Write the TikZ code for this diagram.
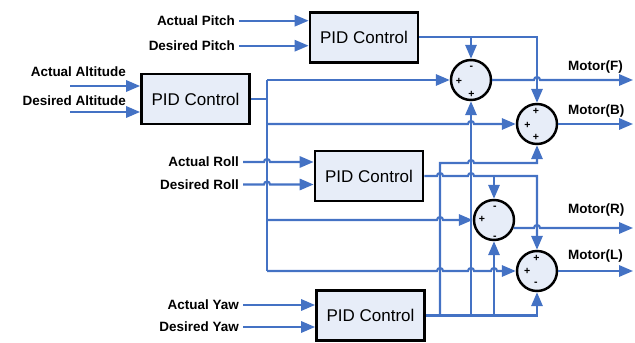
\documentclass[tikz,border=0pt]{standalone}
\usepackage{fontspec}
\setmainfont{Liberation Sans}
\usetikzlibrary{arrows.meta}

\definecolor{wireblue}{RGB}{68,114,196}
\definecolor{boxfill}{RGB}{231,237,248}
% little bump where a wire crosses another one
\newcommand{\hopat}[2]{-- (#1-3,#2) arc[start angle=180,end angle=0,radius=0.09cm]}

\begin{document}
\begin{tikzpicture}[x=0.03cm,y=-0.03cm,
  >={Triangle[length=0.42cm,width=0.34cm]}]
\tikzset{pidbox/.style={draw, line width=2.1pt, fill=boxfill, minimum width=3.25cm, minimum height=1.5cm, font=\fontsize{14.5}{16}\selectfont}}
\tikzset{sumnode/.style={draw, circle, line width=2.1pt, fill=boxfill, minimum size=1.2cm, inner sep=0pt}}
\tikzset{wire/.style={draw=wireblue, line width=1.8pt}}
\tikzset{lbl/.style={font=\bfseries\fontsize{11.5}{13}\selectfont}}
\tikzset{sgn/.style={font=\bfseries\fontsize{9}{9}\selectfont, inner sep=0pt}}
\useasboundingbox (0,0) rectangle (635,343);

% controllers
\node[pidbox] (pitch) at (364,37.3) {PID Control};
\node[pidbox] (alt) at (195.5,99) {PID Control};
\node[pidbox] (roll) at (369,176) {PID Control};
\node[pidbox] (yaw) at (370.5,315.5) {PID Control};

% mixers
\node[sumnode] (sF) at (471,80) {};
\node[sumnode] (sB) at (537,124) {};
\node[sumnode] (sR) at (494,220) {};
\node[sumnode] (sL) at (537,271) {};
\node[sgn] (sF1) at (471.5,68) {-};
\node[sgn] (sF2) at (459,81) {+};
\node[sgn] (sF3) at (471.5,94) {+};
\node[sgn] (sB1) at (536,111) {+};
\node[sgn] (sB2) at (527.5,125.5) {+};
\node[sgn] (sB3) at (536,137.7) {+};
\node[sgn] (sR1) at (495,207.5) {-};
\node[sgn] (sR2) at (482,219.3) {+};
\node[sgn] (sR3) at (495,238) {-};
\node[sgn] (sL1) at (536.5,258.3) {+};
\node[sgn] (sL2) at (527.3,271.7) {+};
\node[sgn] (sL3) at (536,284.3) {-};

% inputs
\node[lbl, anchor=east] (ap) at (239,20.7) {Actual Pitch};
\node[lbl, anchor=east] (dp) at (239,45.7) {Desired Pitch};
\node[lbl, anchor=east] (aa) at (130,72) {Actual Altitude};
\node[lbl, anchor=east] (da) at (130,101) {Desired Altitude};
\node[lbl, anchor=east] (ar) at (243,162) {Actual Roll};
\node[lbl, anchor=east] (dr) at (243,184.5) {Desired Roll};
\node[lbl, anchor=east] (ay) at (243,305) {Actual Yaw};
\node[lbl, anchor=east] (dy) at (243,327) {Desired Yaw};
\coordinate (aaIn) at (70,86);
\coordinate (daIn) at (70,112);

\draw[wire,->] (ap.east) -- (ap.east -| pitch.west);
\draw[wire,->] (dp.east) -- (dp.east -| pitch.west);
\draw[wire,->] (aaIn) -- (aaIn -| alt.west);
\draw[wire,->] (daIn) -- (daIn -| alt.west);
\draw[wire,->] (ar.east) \hopat{267}{162} -- (ar.east -| roll.west);
\draw[wire,->] (dr.east) \hopat{267}{184.5} -- (dr.east -| roll.west);
\draw[wire,->] (ay.east) -- (ay.east -| yaw.west);
\draw[wire,->] (dy.east) -- (dy.east -| yaw.west);

% altitude bus
\coordinate (busT) at (267,80);
\coordinate (busB) at (267,271);
\draw[wire] (alt.east) -- (alt.east -| busT);
\draw[wire] (busT) -- (busB);
\draw[wire,->] (busT) -- (sF.west);
\draw[wire,->] (busT |- sB.west) \hopat{471}{124} -- (sB.west);
\draw[wire,->] (busT |- sR.west) \hopat{440}{220} -- (sR.west);
\draw[wire,->] (busB) \hopat{440}{271} \hopat{471}{271} \hopat{494}{271} -- (sL.west);

% pitch
\draw[wire,->] (pitch.east) -- (pitch.east -| sB.north) -- (sB.north);
\draw[wire,->] (pitch.east -| sF.north) -- (sF.north);

% roll
\draw[wire,->] (roll.east) \hopat{440}{176} \hopat{471}{176} -- (roll.east -| sL.north) -- (sL.north);
\draw[wire,->] (roll.east -| sR.north) -- (sR.north);

% yaw
\coordinate (ybk) at (440,163);
\draw[wire,->] (yaw.east) -- (yaw.east -| sL.south) -- (sL.south);
\draw[wire,->] (yaw.east -| sR.south) -- (sR.south);
\draw[wire,->] (yaw.east -| sF.south) -- (sF.south);
\draw[wire,->] (yaw.east -| ybk) -- (ybk) \hopat{471}{163} -- (ybk -| sB.south) -- (sB.south);

% outputs
\coordinate (oF) at (633,80);
\coordinate (oB) at (633,124);
\coordinate (oR) at (633,228);
\coordinate (oL) at (633,271);
\draw[wire,->] (sF.east) \hopat{537}{80} -- (oF);
\draw[wire,->] (sB.east) -- (oB);
\draw[wire,->] (sR.-22) \hopat{537}{228} -- (oR);
\draw[wire,->] (sL.east) -- (oL);
\node[lbl, anchor=west] (mF) at (564,67.5) {Motor(F)};
\node[lbl, anchor=west] (mB) at (564,111) {Motor(B)};
\node[lbl, anchor=west] (mR) at (564,210) {Motor(R)};
\node[lbl, anchor=west] (mL) at (564,255.7) {Motor(L)};
\end{tikzpicture}
\end{document}
